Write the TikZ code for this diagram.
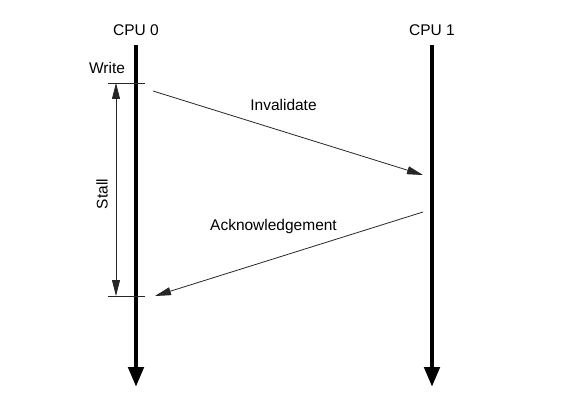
\documentclass[tikz,border=0pt]{standalone}
\usepackage{fontspec}
\setmainfont{Liberation Sans}
\usetikzlibrary{arrows.meta}
\begin{document}
\begin{tikzpicture}[x=1pt,y=-1pt]
\tikzset{etiquette/.style={font=\fontsize{15.5}{18}\selectfont, inner sep=0pt, anchor=base},
  ligne/.style={line width=4.7pt, -{Triangle[length=20pt,width=15pt]}},
  fleche/.style={line width=0.8pt, draw=black!85, -{Triangle[length=16pt,width=8pt]}}}
\useasboundingbox (0,0) rectangle (576,417);
\node[etiquette] (C0) at (136,36) {CPU 0};
\node[etiquette] (C1) at (432,36) {CPU 1};
\coordinate (H0) at (136,45);
\coordinate (B0) at (136,387);
\coordinate (H1) at (432,45);
\coordinate (B1) at (432,387);
\draw[ligne] (H0) -- (B0);
\draw[ligne] (H1) -- (B1);
\node[etiquette] (W) at (107,74) {Write};
\coordinate (W1) at (108,83);
\coordinate (W2) at (145,83);
\coordinate (S1) at (108,296);
\coordinate (S2) at (145,296);
\draw[line width=0.8pt, black!85] (W1) -- (W2);
\draw[line width=0.8pt, black!85] (S1) -- (S2);
\coordinate (SA) at (116,83);
\coordinate (SB) at (116,296);
\draw[fleche, {Triangle[length=16pt,width=8pt]}-{Triangle[length=16pt,width=8pt]}] (SA) -- (SB);
\node[etiquette, anchor=center, rotate=90] (S) at (102,194) {Stall};
\coordinate (I1) at (153,91);
\coordinate (I2) at (423,175);
\draw[fleche] (I1) -- (I2);
\node[etiquette] (I) at (283.5,111) {Invalidate};
\coordinate (A1) at (423,212);
\coordinate (A2) at (155,296);
\draw[fleche] (A1) -- (A2);
\node[etiquette] (A) at (273.5,230) {Acknowledgement};
\end{tikzpicture}
\end{document}
